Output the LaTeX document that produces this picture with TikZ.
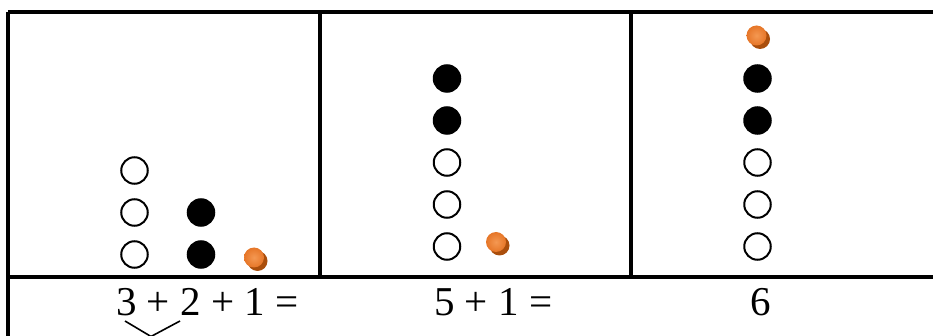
\documentclass[tikz,border=0pt]{standalone}
\usepackage{fontspec}
\setmainfont{Liberation Serif}
\usetikzlibrary{positioning}
\definecolor{beadlight}{RGB}{244,152,82}
\definecolor{beadmid}{RGB}{230,118,40}
\definecolor{beaddark}{RGB}{170,78,12}

\begin{document}
\begin{tikzpicture}[
    x=1pt, y=-1pt,
    rule/.style={line width=3.2pt},
    bead/.style={circle, draw, line width=2pt, minimum size=26.5pt, inner sep=0pt},
    blackbead/.style={bead, fill=black},
    orangebead/.style={circle, minimum size=20pt, inner sep=0pt, inner color=beadlight, outer color=beadmid,
        preaction={fill=beaddark, transform canvas={shift={(3.5pt,-3.5pt)}}}},
    sum/.style={font=\fontsize{41}{44}\selectfont, anchor=base west, inner sep=0pt}
]
\useasboundingbox (0,0) rectangle (933,336);

% table lines
\coordinate (tl) at (8,12);
\coordinate (bl) at (8,336);
\draw[rule] (8,12) -- (933,12);
\draw[rule] (8,277) -- (933,277);
\draw[rule] (tl) -- (bl);
\draw[rule] (320,12) -- (320,277);
\draw[rule] (631,12) -- (631,277);

% first box: 3 + 2 + 1
\foreach \i/\y in {1/170.5,2/212.5,3/254.5}
    \node[bead] (a\i) at (134.5,\y) {};
\foreach \i/\y in {1/212.5,2/254.5}
    \node[blackbead] (b\i) at (201,\y) {};
\node[orangebead] (o1) at (254,257.5) {};

% second box: 5 + 1
\foreach \i/\y in {1/162.5,2/204.5,3/246.5}
    \node[bead] (c\i) at (447,\y) {};
\foreach \i/\y in {1/78.5,2/120.5}
    \node[blackbead] (d\i) at (447,\y) {};
\node[orangebead] (o2) at (496,242) {};

% third box: 6
\foreach \i/\y in {1/162.5,2/204.5,3/246.5}
    \node[bead] (e\i) at (757.5,\y) {};
\foreach \i/\y in {1/78.5,2/120.5}
    \node[blackbead] (f\i) at (757.5,\y) {};
\node[orangebead] (o3) at (756.5,35.5) {};

% sums
\node[sum] (s1) at (116,315) {3 + 2 + 1 =};
\node[sum] (s2) at (434,315) {5 + 1 =};
\node[sum] (s3) at (750,315) {6};

% brace under 3 + 2
\coordinate (vl) at (125,321);
\coordinate (vr) at (180,321);
\coordinate (vb) at (151,336.5);
\draw[line width=1.6pt] (vl) -- (vb) -- (vr);
\end{tikzpicture}
\end{document}
